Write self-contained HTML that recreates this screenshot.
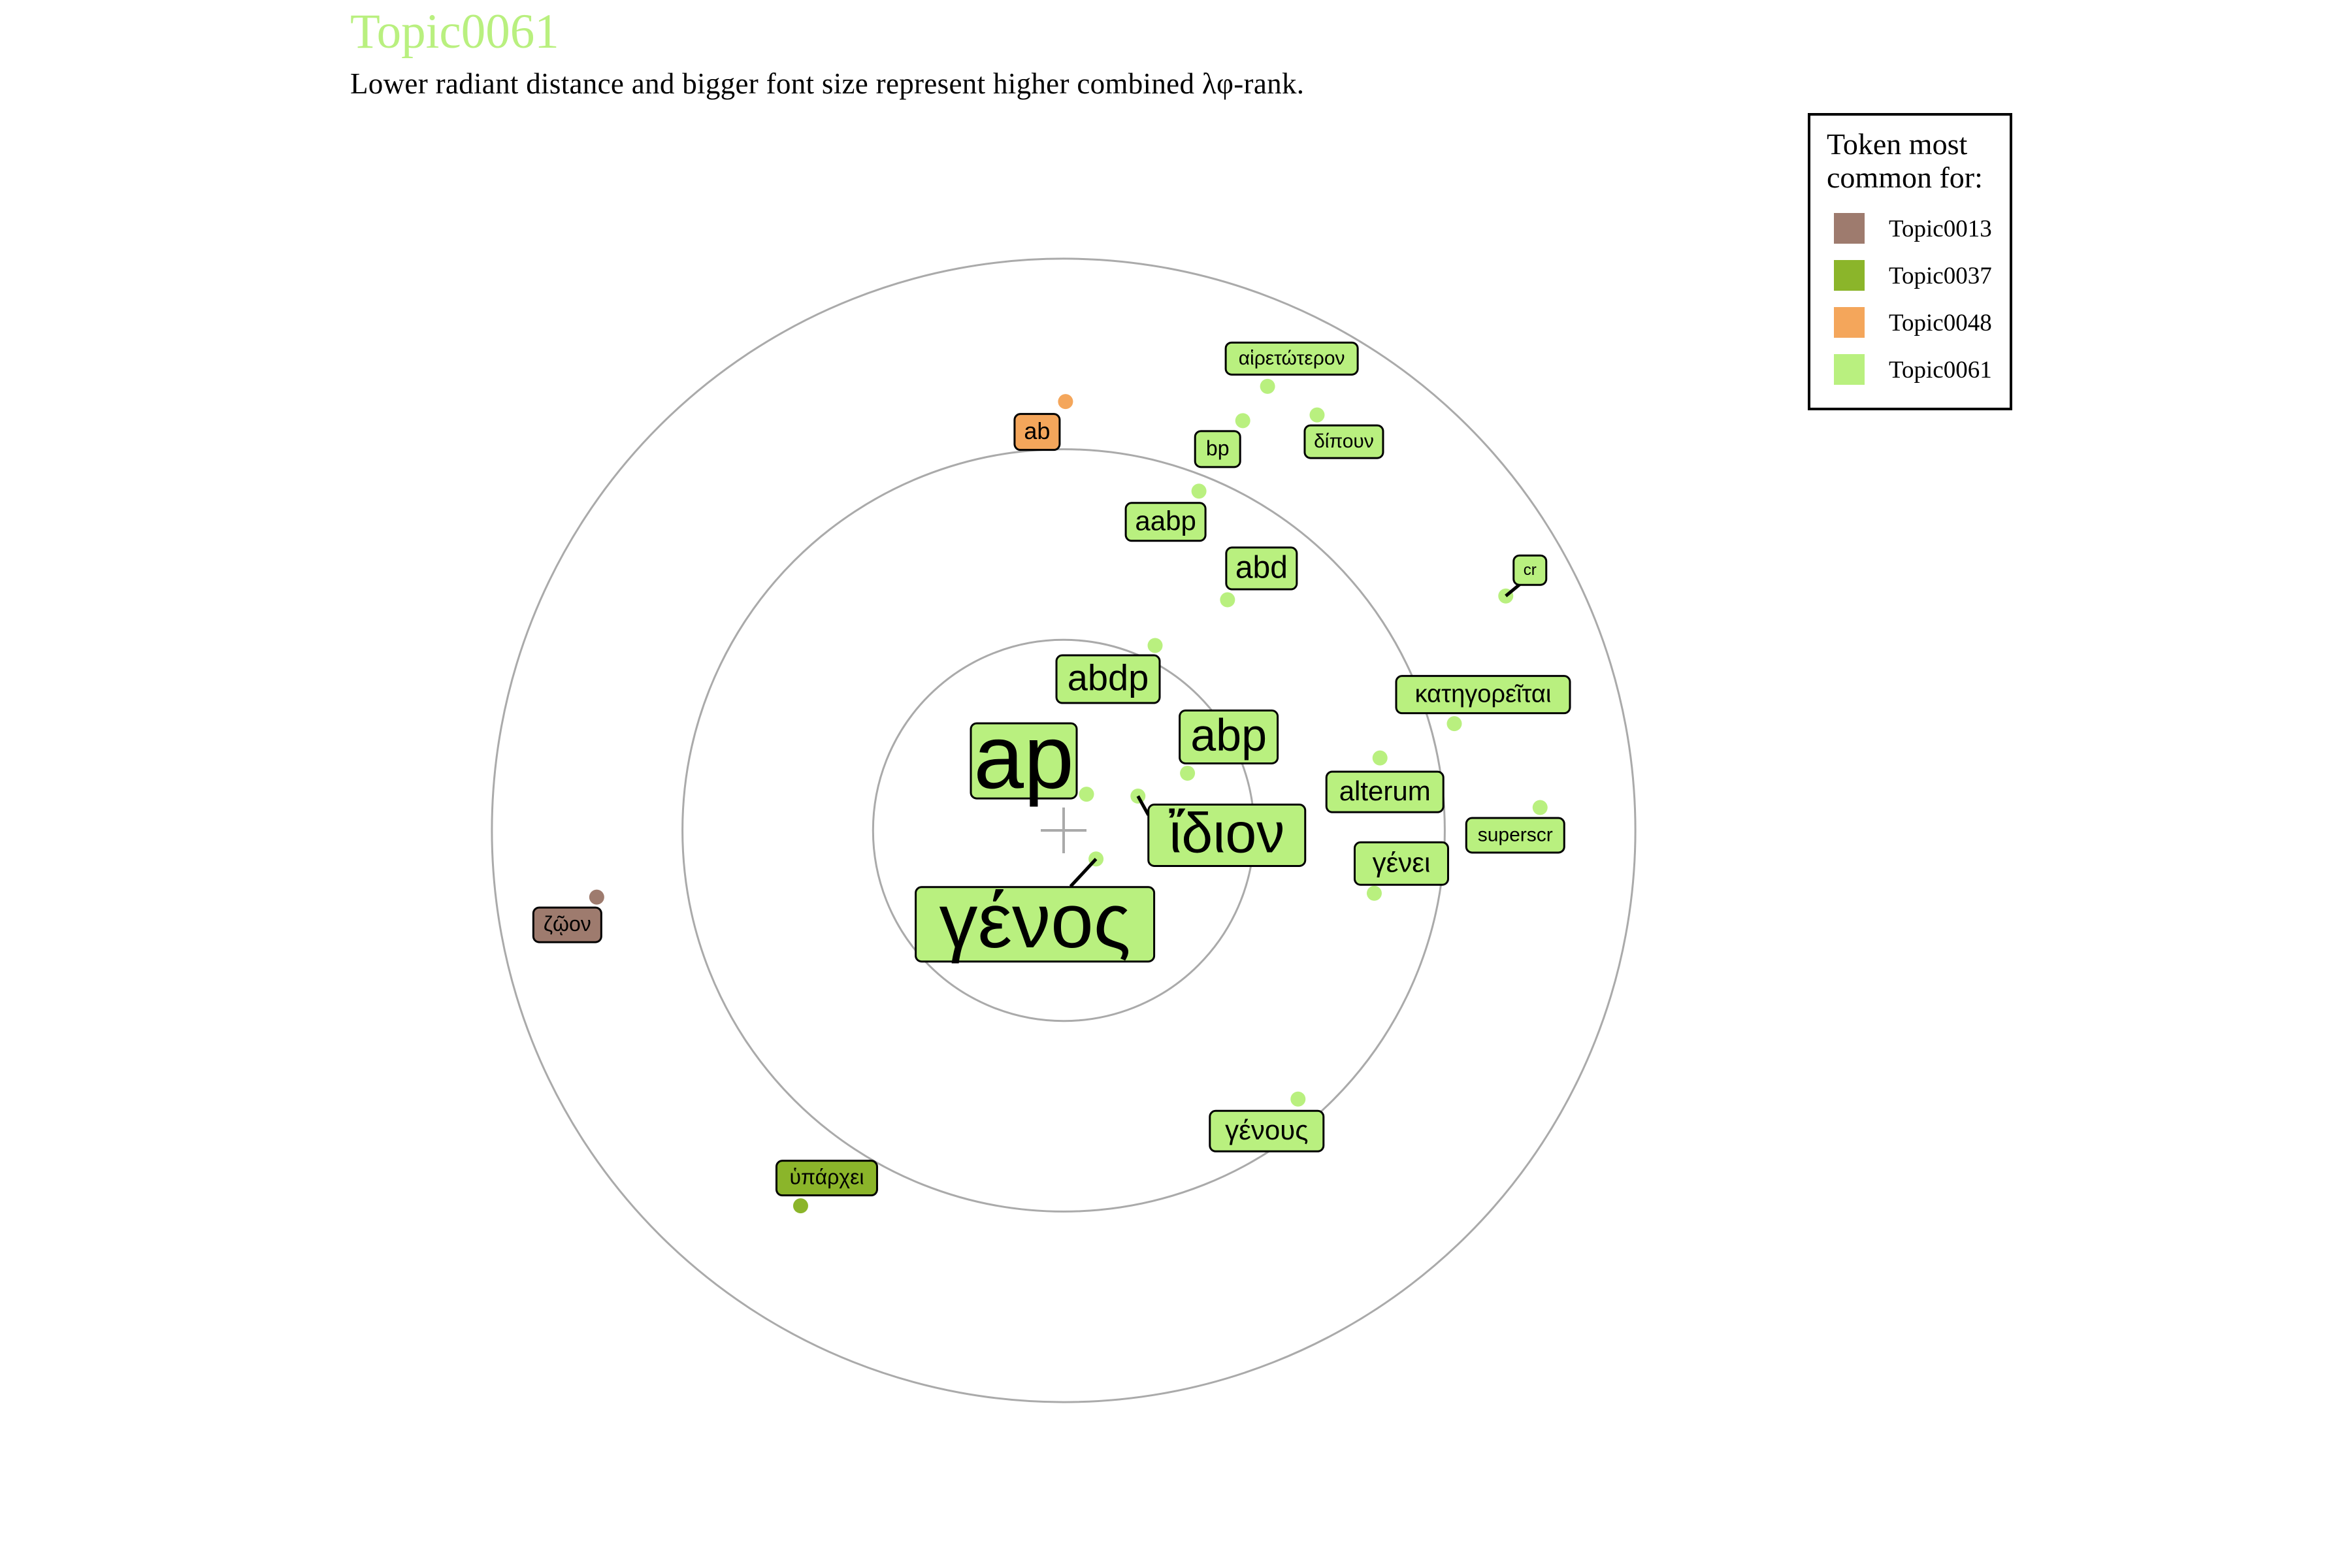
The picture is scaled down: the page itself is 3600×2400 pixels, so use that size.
<!DOCTYPE html>
<html><head><meta charset="utf-8"><style>
html,body{margin:0;padding:0;background:#fff;}
svg{display:block;}
</style></head><body>
<svg id="chart" width="3600" height="2400" viewBox="0 0 3600 2400" xmlns="http://www.w3.org/2000/svg">
<text x="536" y="73" font-family="Liberation Serif, serif" font-size="75" fill="#b9f07f">Topic0061</text>
<text x="536" y="143" font-family="Liberation Serif, serif" font-size="45" fill="#000" textLength="1460">Lower radiant distance and bigger font size represent higher combined λφ-rank.</text>
<g id="rings"></g>
<g id="marks"></g>
<g>
<rect x="2769" y="175" width="309" height="451" fill="#fff" stroke="#000" stroke-width="4"/>
<text font-family="Liberation Serif, serif" font-size="46"><tspan x="2796" y="236">Token most</tspan><tspan x="2796" y="287">common for:</tspan></text>
<g id="legend-entries"></g>
</g>
</svg>
<script>
// ---- data ----
const tokens = ["ap","γένος","ἴδιον","abp","abdp","abd","aabp","ab","bp","αἱρετώτερον","δίπουν","cr","κατηγορεῖται","alterum","superscr","γένει","ζῷον","γένους","ὑπάρχει"];
const xVals = [0.12,0.17,0.39,0.65,0.48,0.86,0.71,0.01,0.94,1.07,1.33,2.32,2.05,1.66,2.50,1.63,-2.45,1.23,-1.38];
const yVals = [-0.19,0.15,-0.18,-0.30,-0.97,-1.21,-1.78,-2.25,-2.15,-2.33,-2.18,-1.23,-0.56,-0.38,-0.12,0.33,0.35,1.41,1.97];
const fontSizes = [138,118,86,70,56,48,42,36,32,30,30,24,38,42,30,42,32,42,32];
const topics = ["Topic0061","Topic0061","Topic0061","Topic0061","Topic0061","Topic0061","Topic0061","Topic0048","Topic0061","Topic0061","Topic0061","Topic0061","Topic0061","Topic0061","Topic0061","Topic0061","Topic0013","Topic0061","Topic0037"];
const legendTopics = ["Topic0013","Topic0037","Topic0048","Topic0061"];
const ringValues = [1,2,3];
// ---- layout (label box offset from point, size, leader flag, leader end offset) ----
const labelLayout = [
[-96,-51,162,115,0],[-93.5,100,365,114,1,-39,42],[136,60,240,94,1,16,29],[63,-55.5,150,81,0],[-72,51.5,158,73,0],
[52,-48,108,64,0],[-51,47,122,58,0],[-43.5,46.5,69,55,0],[-38.5,43.5,69,55,0],[37,-42.5,202,49,0],
[41,41,120,50,0],[37,-39.5,50,45,1,23,-19],[44,-44.5,266,57,0],[7.5,52,179,62,0],[-38,42.5,150,53,0],
[41.5,-45.5,143,65,0],[-45,42.5,104,53,0],[-48,49,174,62,0],[40,-42.5,154,53,0]];
const colors = {"Topic0013":"#9e7b6e","Topic0037":"#8bb52a","Topic0048":"#f4a65b","Topic0061":"#b9f07f"};
const CX=1628, CY=1271, UNIT=291.7;
const sx = v => CX + v*UNIT;
const sy = v => CY + v*UNIT;
const NS="http://www.w3.org/2000/svg";
function mk(tag, attrs, parent){const e=document.createElementNS(NS,tag);for(const k in attrs)e.setAttribute(k,attrs[k]);parent.appendChild(e);return e;}

const rings=document.getElementById('rings');
ringValues.forEach(r=>{
  const c=mk('circle',{cx:CX,cy:CY,r:r*UNIT,fill:'none',stroke:'#aaaaaa','stroke-width':3},rings);
  
  
});
const h=mk('line',{x1:CX-35,y1:CY,x2:CX+35,y2:CY,stroke:'#aaaaaa','stroke-width':4},rings);


const v=mk('line',{x1:CX,y1:CY-35,x2:CX,y2:CY+35,stroke:'#aaaaaa','stroke-width':4},rings);



const marks=document.getElementById('marks');
tokens.forEach((t,i)=>{
  const px=sx(xVals[i]), py=sy(yVals[i]);
  const L=labelLayout[i];
  const bx=px+L[0]-L[2]/2, by=py+L[1]-L[3]/2;
  const col=colors[topics[i]];
  const g=mk('g',{},marks);
  
  
  const dot=mk('circle',{cx:px,cy:py,r:11.5,fill:col},g);
  
  
  if(L[4]){
    const ln=mk('line',{x1:px,y1:py,x2:px+L[5],y2:py+L[6],stroke:'#000','stroke-width':5},g);
    
    
  }
  const rc=mk('rect',{x:bx,y:by,width:L[2],height:L[3],rx:9,fill:col,stroke:'#000','stroke-width':3},g);
  
  
  const tx=mk('text',{x:px+L[0],y:py+L[1]+fontSizes[i]*0.3,'text-anchor':'middle','font-family':'Liberation Sans, DejaVu Sans, sans-serif','font-size':fontSizes[i],fill:'#000'},g);
  tx.textContent=t;
  
  
});

const le=document.getElementById('legend-entries');
legendTopics.forEach((t,i)=>{
  const y=326+i*72;
  const s=mk('rect',{x:2807,y:y,width:47,height:47,fill:colors[t]},le);
  
  
  const tx=mk('text',{x:2891,y:y+36,'font-family':'Liberation Serif, serif','font-size':37},le);
  tx.textContent=t;
  
  
});
</script>
</body></html>
